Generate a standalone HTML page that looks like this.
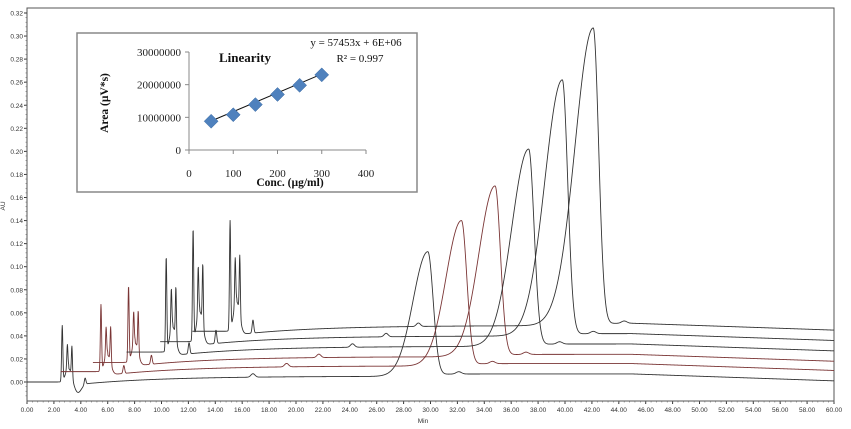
<!DOCTYPE html>
<html><head><meta charset="utf-8"><style>
html,body{margin:0;padding:0;background:#fff;}
svg{display:block;font-family:"Liberation Sans",sans-serif;}
</style></head><body>
<svg id="chart" width="851" height="429" viewBox="0 0 851 429"></svg>
<script>
// ---- chromatogram data ----
const traceStarts = [0, 2.5, 4.9, 7.4, 9.9, 12.3];
const traceBaselines = [0.000, 0.009, 0.017, 0.026, 0.035, 0.044];
const earlyPeakTimes = [2.62, 5.5, 7.55, 10.35, 12.35, 15.1];
const earlyPeakHeights = [0.048, 0.057, 0.065, 0.081, 0.096, 0.094];
const mainPeakTimes = [29.8, 32.3, 34.8, 37.3, 39.8, 42.1];
const mainPeakHeights = [0.108, 0.126, 0.148, 0.171, 0.222, 0.258];
const traceColors = ["#333", "#7a3535", "#7a3535", "#333", "#333", "#333"];
const yTicks = [0,0.02,0.04,0.06,0.08,0.10,0.12,0.14,0.16,0.18,0.20,0.22,0.24,0.26,0.28,0.30,0.32];
const xTicks = [0,2,4,6,8,10,12,14,16,18,20,22,24,26,28,30,32,34,36,38,40,42,44,46,48,50,52,54,56,58,60];
// ---- inset linearity data ----
const concValues = [50, 100, 150, 200, 250, 300];
const areaValues = [8800000, 10800000, 13900000, 17000000, 19800000, 23000000];
const slope = 57453, intercept = 6000000;
const insetXTicks = [0,100,200,300,400];
const insetYTicks = [0,10000000,20000000,30000000];

const svg = document.getElementById('chart');
const NS = 'http://www.w3.org/2000/svg';
function mk(tag, attrs, parent){const e=document.createElementNS(NS,tag);for(const k in attrs)e.setAttribute(k,attrs[k]);(parent||svg).appendChild(e);return e;}

const X0=27, X1=834, Y0=382, YT=13, YB=401;
const xs = t => X0 + (t/60)*(X1-X0);
const ys = v => Y0 - (v/0.32)*(Y0-YT);

const frame = mk('rect',{x:X0,y:8,width:X1-X0,height:YB-8,fill:'none',stroke:'#555','stroke-width':1});



yTicks.forEach(v=>{
  const y=ys(v);
  const l=mk('line',{x1:X0-3,x2:X0,y1:y,y2:y,stroke:'#333'});
  
  
  const t=mk('text',{x:X0-4,y:y+2.5,'font-size':6.5,'text-anchor':'end',fill:'#333'});
  t.textContent=v.toFixed(2);
  
  
});
for(let v=-0.012; v<=0.32; v+=0.004){const y=ys(v); mk('line',{x1:X0-1.5,x2:X0,y1:y,y2:y,stroke:'#666','stroke-width':0.6});}
xTicks.forEach(v=>{
  const x=xs(v);
  const l=mk('line',{x1:x,x2:x,y1:YB,y2:YB+3,stroke:'#333'});
  
  
  const t=mk('text',{x:x,y:YB+11,'font-size':6.5,'text-anchor':'middle',fill:'#333'});
  t.textContent=v.toFixed(2);
  
  
});
for(let v=0; v<=60; v+=0.4){const x=xs(v); mk('line',{x1:x,x2:x,y1:YB,y2:YB+1.5,stroke:'#666','stroke-width':0.6});}
const au=mk('text',{x:5,y:206,'font-size':6.5,fill:'#333',transform:'rotate(-90 5 206)','text-anchor':'middle'});
au.textContent='AU';


const mn=mk('text',{x:423,y:423,'font-size':6.5,fill:'#333','text-anchor':'middle'});
mn.textContent='Min';



function g(t,c,s){return Math.exp(-0.5*((t-c)/s)*((t-c)/s));}
function signal(i,t){
  const s=traceStarts[i], b=traceBaselines[i], T=earlyPeakTimes[i], H=earlyPeakHeights[i];
  const M=mainPeakTimes[i], P=mainPeakHeights[i];
  let v=b;
  if(t>T+0.5){const d=t-(T+0.5); v+= -0.003 + 0.008*(1-Math.exp(-d/6));}
  v+=0.002/(1+Math.exp(-(t-M-0.8)/0.3));
  if(t>45) v-= 0.006*(t-45)/15;
  v+= H*g(t,T,0.045)+0.42*H*g(t,T+0.38,0.04)+0.55*H*g(t,T+0.72,0.04)+0.3*H*g(t,T+0.5,0.22);
  v+= 0.12*H*g(t,T+1.7,0.06);
  if(i===0) v-= 0.007*g(t,3.8,0.25);
  v+= 0.003*g(t,s+16.8,0.15)+0.002*g(t,M+2.3,0.2);
  const sl=1.1+0.05*i, sr=0.4;
  v+= P*(t<M? g(t,M,sl): g(t,M,sr));
  return v;
}
for(let i=0;i<traceStarts.length;i++){
  let d='';
  for(let t=traceStarts[i]; t<=60.001; t+=0.02){
    d+=(d?'L':'M')+xs(t).toFixed(2)+','+ys(signal(i,t)).toFixed(2);
  }
  const p=mk('path',{d:d,fill:'none',stroke:traceColors[i],'stroke-width':0.9,'stroke-linejoin':'round'});
  
  
}

// ---- inset ----
const ins=mk('g',{});


mk('rect',{x:77,y:33,width:340,height:159,fill:'#fff',stroke:'#888','stroke-width':1.5},ins);
const IX0=189, IX1=366, IY0=150, IY1=52;
const ix = c => IX0 + c/400*(IX1-IX0);
const iy = a => IY0 - a/30000000*(IY0-IY1);
mk('line',{x1:IX0,x2:IX0,y1:IY1,y2:IY0,stroke:'#888'},ins);
mk('line',{x1:IX0,x2:IX1,y1:IY0,y2:IY0,stroke:'#888'},ins);
insetYTicks.forEach(v=>{
  mk('line',{x1:IX0-4,x2:IX0,y1:iy(v),y2:iy(v),stroke:'#888'},ins);
  const t=mk('text',{x:IX0-8,y:iy(v)+4,'font-size':11,'text-anchor':'end','font-family':'Liberation Serif',fill:'#222'},ins);
  t.textContent=String(v);
  
  
});
insetXTicks.forEach(v=>{
  mk('line',{x1:ix(v),x2:ix(v),y1:IY0,y2:IY0+4,stroke:'#888'},ins);
  const t=mk('text',{x:ix(v),y:177,'font-size':11,'text-anchor':'middle','font-family':'Liberation Serif',fill:'#222'},ins);
  t.textContent=String(v);
  
  
});
const tl=mk('line',{x1:ix(concValues[0]),y1:iy(slope*concValues[0]+intercept),x2:ix(concValues[concValues.length-1]),y2:iy(slope*concValues[concValues.length-1]+intercept),stroke:'#111','stroke-width':1},ins);


concValues.forEach((c,k)=>{
  const x=ix(c), y=iy(areaValues[k]);
  const m=mk('polygon',{points:`${x},${y-7} ${x+7},${y} ${x},${y+7} ${x-7},${y}`,fill:'#4f81bd',stroke:'#3a6aa3','stroke-width':0.5},ins);
  
  
});
function txt(x,y,s,attrs,name){const t=mk('text',Object.assign({x:x,y:y,'font-family':'Liberation Serif',fill:'#111'},attrs),ins);t.textContent=s;return t;}
txt(219,62,'Linearity',{'font-size':13,'font-weight':'bold'},'inset-title');
txt(356,46,'y = 57453x + 6E+06',{'font-size':11,'text-anchor':'middle'},'regression-equation');
txt(360,62,'R² = 0.997',{'font-size':11,'text-anchor':'middle'},'r-squared');
txt(290,186,'Conc. (µg/ml)',{'font-size':11.5,'font-weight':'bold','text-anchor':'middle'},'inset-x-axis-title');
txt(108,103,'Area (µV*s)',{'font-size':11.5,'font-weight':'bold','text-anchor':'middle',transform:'rotate(-90 108 103)'},'inset-y-axis-title');
</script>
</body></html>
